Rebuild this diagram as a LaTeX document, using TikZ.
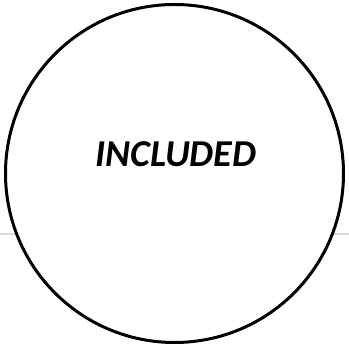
\documentclass[tikz,border=0pt]{standalone}
\usepackage{fontspec}
\setmainfont{Carlito}
\begin{document}
\begin{tikzpicture}[x=1pt,y=1pt,
  setcircle/.style={circle,draw=black,line width=3pt,fill=white,minimum size=338pt,inner sep=0pt},
  label/.style={font=\fontsize{38}{42}\selectfont\bfseries\itshape}]
\useasboundingbox (0,0) rectangle (349,348);
\coordinate (la) at (0,114);
\coordinate (lb) at (349,114);
\draw[draw={rgb,255:red,217;green,217;blue,217},line width=2.5pt] (la) -- (lb);
\node[setcircle] (c) at (174.5,174.5) {};
\node[label] (t) at (176,194) {INCLUDED};
\end{tikzpicture}
\end{document}
